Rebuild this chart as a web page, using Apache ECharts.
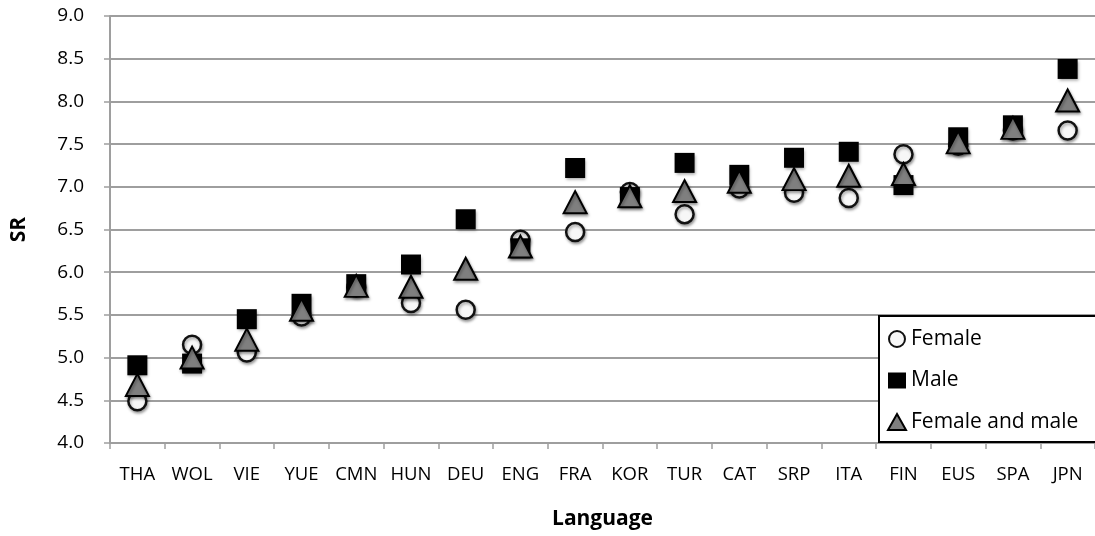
<!DOCTYPE html>
<html>
<head>
<meta charset="utf-8">
<script src="https://cdn.jsdelivr.net/npm/echarts@6/dist/echarts.min.js"></script>
<style>
  html, body { margin: 0; padding: 0; background: #fff; }
  #chart { width: 1095px; height: 536px; }
</style>
</head>
<body>
<div id="chart"></div>
<script>
// Speech-rate (SR) values per language
const languages = ['THA', 'WOL', 'VIE', 'YUE', 'CMN', 'HUN', 'DEU', 'ENG', 'FRA', 'KOR', 'TUR', 'CAT', 'SRP', 'ITA', 'FIN', 'EUS', 'SPA', 'JPN'];
const femaleSR = [4.49, 5.15, 5.06, 5.48, 5.82, 5.64, 5.56, 6.38, 6.47, 6.94, 6.68, 6.98, 6.93, 6.87, 7.38, 7.48, 7.66, 7.66];
const maleSR   = [4.91, 4.93, 5.45, 5.63, 5.86, 6.09, 6.62, 6.28, 7.22, 6.88, 7.28, 7.14, 7.34, 7.41, 7.02, 7.58, 7.72, 8.38];
const bothSR   = [4.68, 5.00, 5.21, 5.56, 5.84, 5.83, 6.04, 6.30, 6.82, 6.89, 6.95, 7.06, 7.09, 7.13, 7.15, 7.52, 7.69, 8.01];
const yTicks = { min: 4, max: 9, step: 0.5 };

const font = '"Open Sans", "DejaVu Sans", sans-serif';
const shadow = { shadowBlur: 3, shadowColor: 'rgba(0,0,0,0.35)', shadowOffsetX: 1, shadowOffsetY: 2 };

const chart = echarts.init(document.getElementById('chart'), null, { renderer: 'canvas' });
chart.setOption({
  animation: false,
  backgroundColor: '#ffffff',
  grid: { left: 110, right: -2, top: 16, bottom: 93, containLabel: false },
  // legend frame runs past the right edge of the canvas
  graphic: [{
    type: 'rect',
    z: 10,
    shape: { x: 879, y: 316, width: 280, height: 126 },
    style: { fill: '#ffffff', stroke: '#000000', lineWidth: 2 }
  }],
  legend: {
    orient: 'vertical',
    left: 878,
    top: 315,
    z: 20,
    padding: [12, 10, 8, 9],
    itemWidth: 18,
    itemHeight: 16,
    itemGap: 17.5,
    textStyle: { fontFamily: font, fontSize: 21, color: '#000', lineHeight: 24 },
    data: ['Female', 'Male', 'Female and male']
  },
  xAxis: {
    type: 'category',
    data: languages,
    boundaryGap: true,
    axisLine: { lineStyle: { color: '#9e9e9e', width: 2 } },
    axisTick: { show: true, interval: 0, length: 6, inside: false, lineStyle: { color: '#9e9e9e', width: 1.5 } },
    axisLabel: { interval: 0, hideOverlap: false, fontFamily: font, fontSize: 18.5, color: '#000', margin: 22 },
    name: 'Language',
    nameLocation: 'middle',
    nameGap: 66,
    nameTextStyle: { fontFamily: font, fontSize: 21, fontWeight: 'bold', color: '#000' },
    splitLine: { show: false }
  },
  yAxis: {
    type: 'value',
    min: yTicks.min,
    max: yTicks.max,
    interval: yTicks.step,
    axisLine: { show: true, lineStyle: { color: '#9e9e9e', width: 2 } },
    axisTick: { show: true, length: 6, inside: false, lineStyle: { color: '#9e9e9e', width: 1.5 } },
    axisLabel: { fontFamily: font, fontSize: 19, color: '#000', margin: 26, formatter: v => v.toFixed(1) },
    splitLine: { show: true, lineStyle: { color: '#9e9e9e', width: 2 } },
    name: 'SR',
    nameLocation: 'middle',
    nameGap: 80,
    nameRotate: 90,
    nameTextStyle: { fontFamily: font, fontSize: 21, fontWeight: 'bold', color: '#000' }
  },
  series: [
    {
      name: 'Female',
      type: 'scatter',
      data: femaleSR,
      symbol: 'circle',
      symbolSize: 18,
      itemStyle: Object.assign({ color: '#f7f7f7', borderColor: '#111', borderWidth: 2.5, opacity: 1 }, shadow),
      z: 2
    },
    {
      name: 'Male',
      type: 'scatter',
      data: maleSR,
      symbol: 'rect',
      symbolSize: 20,
      itemStyle: Object.assign({ color: '#000000', borderColor: '#000', borderWidth: 0, opacity: 1 }, shadow),
      z: 3
    },
    {
      name: 'Female and male',
      type: 'scatter',
      data: bothSR,
      symbol: 'triangle',
      symbolSize: [23, 22],
      itemStyle: Object.assign({ color: '#7f7f7f', borderColor: '#000', borderWidth: 2, opacity: 1 }, shadow),
      z: 4
    }
  ]
});
</script>
</body>
</html>
